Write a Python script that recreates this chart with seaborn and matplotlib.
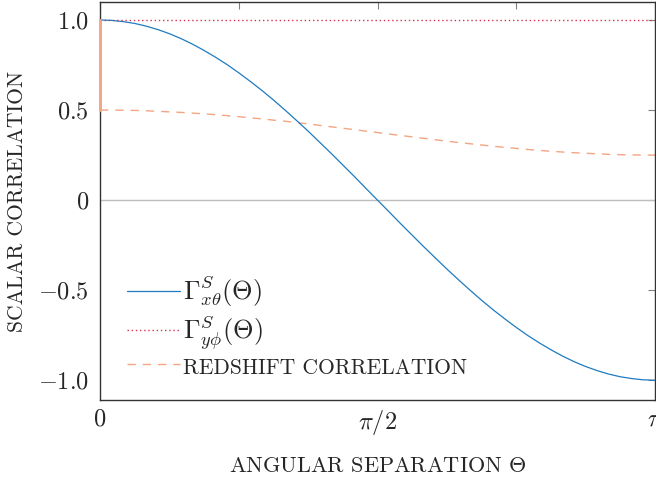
import numpy as np
import pandas as pd
import matplotlib
matplotlib.use("Agg")
import matplotlib.pyplot as plt
import seaborn as sns

# Angular separation samples (in units of pi / 48)
theta_steps = list(range(49))

# Scalar correlation Gamma^S_{x theta}
gamma_xtheta = [1.000, 0.998, 0.991, 0.981, 0.966, 0.947, 0.924, 0.897, 0.866,
                0.831, 0.793, 0.752, 0.707, 0.659, 0.609, 0.556, 0.500, 0.442,
                0.383, 0.321, 0.259, 0.195, 0.131, 0.065, 0.000,
                -0.065, -0.131, -0.195, -0.259, -0.321, -0.383, -0.442, -0.500,
                -0.556, -0.609, -0.659, -0.707, -0.752, -0.793, -0.831, -0.866,
                -0.897, -0.924, -0.947, -0.966, -0.981, -0.991, -0.998, -1.000]

# Scalar correlation Gamma^S_{y phi}
gamma_yphi = [1.0] * 49

# Redshift correlation (value 1.0 at exactly zero separation, 0.5 just after)
redshift_at_zero = 1.0
redshift_corr = [0.500, 0.500, 0.499, 0.498, 0.496, 0.493, 0.490, 0.487, 0.483,
                 0.479, 0.474, 0.469, 0.463, 0.457, 0.451, 0.444, 0.438, 0.430,
                 0.423, 0.415, 0.407, 0.399, 0.391, 0.383, 0.375, 0.367, 0.359,
                 0.351, 0.343, 0.335, 0.327, 0.320, 0.313, 0.306, 0.299, 0.293,
                 0.287, 0.281, 0.276, 0.271, 0.267, 0.263, 0.260, 0.257, 0.254,
                 0.252, 0.251, 0.250, 0.250]

x_ticks_major = [0, np.pi / 2, np.pi]
x_tick_labels = [r"$0$", r"$\pi/2$", r"$\pi$"]
x_ticks_minor = [np.pi / 4, 3 * np.pi / 4]
y_ticks = [-1.0, -0.5, 0.0, 0.5, 1.0]
y_tick_labels = [r"$-1.0$", r"$-0.5$", r"$0$", r"$0.5$", r"$1.0$"]

theta = np.array(theta_steps) * np.pi / 48
df = pd.DataFrame({"theta": theta, "gx": gamma_xtheta,
                   "gy": gamma_yphi, "z": redshift_corr})

sns.set_theme(style="white")
plt.rcParams["mathtext.fontset"] = "cm"
plt.rcParams["font.family"] = ["cmr10", "DejaVu Serif"]
plt.rcParams["axes.unicode_minus"] = False

blue = "#1f7bbf"
red = "#d8304f"
orange = "#f4a582"

fig = plt.figure(figsize=(6.56, 4.83), dpi=100)
ax = fig.add_axes([100 / 656, 83 / 483, 555 / 656, 398 / 483])

ax.axhline(0, color="#bdbdbd", lw=1.0, zorder=1)

sns.lineplot(data=df, x="theta", y="gx", ax=ax, color=blue, lw=0.9,
             label=r"$\Gamma^{S}_{x\theta}(\Theta)$", zorder=3)
sns.lineplot(data=df, x="theta", y="gy", ax=ax, color=red, lw=1.0,
             linestyle=(0, (1, 2)), label=r"$\Gamma^{S}_{y\phi}(\Theta)$", zorder=3)
sns.lineplot(data=df, x="theta", y="z", ax=ax, color=orange, lw=1.0,
             linestyle=(0, (6, 5)), label="REDSHIFT CORRELATION", zorder=2)
# jump of the redshift correlation at zero separation
ax.plot([theta[0], theta[0]], [redshift_at_zero, redshift_corr[0]],
        color=orange, lw=2.0, zorder=4, clip_on=False)

ax.set_xlim(0, np.pi)
ax.set_ylim(-1.11, 1.1)
ax.set_xticks(x_ticks_major)
ax.set_xticklabels(x_tick_labels)
ax.set_xticks(x_ticks_minor, minor=True)
ax.set_yticks(y_ticks)
ax.set_yticklabels(y_tick_labels)

ax.tick_params(axis="both", which="both", direction="in", top=True, right=True,
               length=5, width=0.8, color="#808080", labelsize=17.5, pad=8)
ax.tick_params(axis="x", pad=6)
for s in ax.spines.values():
    s.set_color("#333333")
    s.set_linewidth(1.0)

ax.set_xlabel("ANGULAR SEPARATION " + r"$\Theta$", fontsize=16, labelpad=14)
ax.set_ylabel("SCALAR CORRELATION", fontsize=15.5, labelpad=8)

leg = ax.legend(loc="lower left", bbox_to_anchor=(0.03, 0.03), frameon=False,
                fontsize=19, handlelength=2.0, handletextpad=0.1,
                labelspacing=0.12, borderaxespad=0)
for t in leg.get_texts():
    if t.get_text().startswith("REDSHIFT"):
        t.set_fontsize(15.5)

fig.savefig("out.png", dpi=100)
